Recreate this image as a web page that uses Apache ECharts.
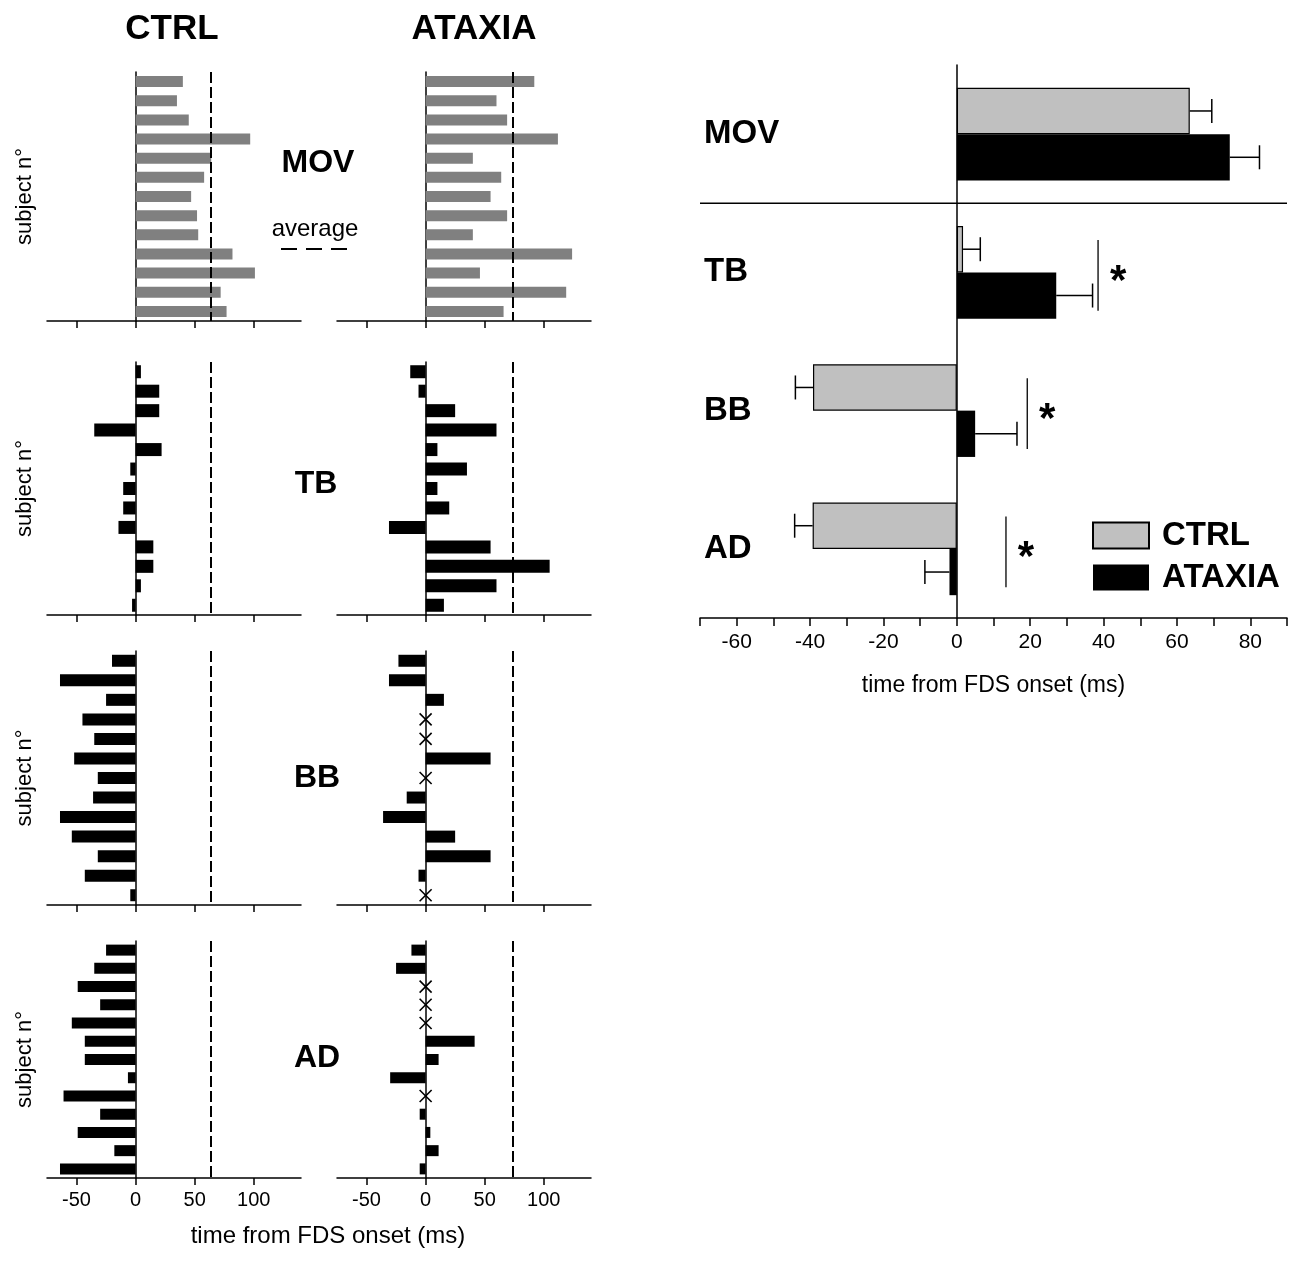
<!DOCTYPE html>
<html>
<head>
<meta charset="utf-8">
<title>FDS onset timing</title>
<script src="https://cdn.jsdelivr.net/npm/echarts@6/dist/echarts.min.js"></script>
<style>
  html, body { margin: 0; padding: 0; background: #fff; }
  #main { width: 1300px; height: 1263px; }
</style>
</head>
<body>
<div id="main"></div>
<script>
var myChart = echarts.init(document.getElementById('main'));

// single subjects, onset time from FDS (ms); null = no activation (x)
var subjects = ['1', '2', '3', '4', '5', '6', '7', '8', '9', '10', '11', '12', '13'];
var ctrlMov = [40, 35, 45, 97, 64, 58, 47, 52, 53, 82, 101, 72, 77];
var ataxiaMov = [92, 60, 69, 112, 40, 64, 55, 69, 40, 124, 46, 119, 66];
var ctrlTb = [4.5, 20, 20, -35, 22, -4.5, -10.5, -10.5, -14.5, 15, 15, 4.5, -3];
var ataxiaTb = [-13, -6, 25, 60, 10, 35, 10, 20, -31, 55, 105, 60, 15.5];
var ctrlBb = [-20, -64, -25, -45, -35, -52, -32, -36, -64, -54, -32, -43, -4.5];
var ataxiaBb = [-23, -31, 15.5, null, null, 55, null, -16, -36, 25, 55, -6, null];
var ctrlAd = [-25, -35, -49, -30, -54, -43, -43, -6.5, -61, -30, -49, -18, -64];
var ataxiaAd = [-12, -25, null, null, null, 41.5, 11, -30, null, -5, 4, 11, -5];
var ctrlAverage = 63.5;
var ataxiaAverage = 73.7;
var panelTicks = [-50, 0, 50, 100];

// group means
var muscles = ['MOV', 'TB', 'BB', 'AD'];
var meanCtrl = [63.5, 1.7, -39.2, -39.3];
var semCtrl = [6.0, 4.7, 4.8, 4.9];
var meanAtaxia = [74.4, 27.1, 5.0, -2.0];
var semAtaxia = [8.1, 9.9, 11.4, 6.7];
var sigMuscles = ['TB', 'BB', 'AD'];
var sigAt = [38.5, 19.2, 13.4];
var separatorAfter = 'MOV';

var panelValues = [
    [ctrlMov, ataxiaMov],
    [ctrlTb, ataxiaTb],
    [ctrlBb, ataxiaBb],
    [ctrlAd, ataxiaAd]
];
var averages = [ctrlAverage, ataxiaAverage];

// layout
var font = 'Liberation Sans, Arial, sans-serif';
var colLeft = [47, 337];
var rowTop = [72, 362, 651, 941];
var rowHeight = [249, 253, 254, 237];
var rowBarWidth = [11, 13, 12, 11];
var rowColor = ['#808080', '#000', '#000', '#000'];

var grid = [], xAxis = [], yAxis = [], series = [];

function crossItem(params, api) {
    var p = api.coord([api.value(0), api.value(1)]);
    var s = 6;
    var style = { stroke: '#000', lineWidth: 1.6 };
    return {
        type: 'group',
        children: [
            { type: 'line', shape: { x1: p[0] - s, y1: p[1] - s, x2: p[0] + s, y2: p[1] + s }, style: style },
            { type: 'line', shape: { x1: p[0] - s, y1: p[1] + s, x2: p[0] + s, y2: p[1] - s }, style: style }
        ]
    };
}

rowTop.forEach(function (top, r) {
    [0, 1].forEach(function (c) {
        var i = grid.length;
        var values = panelValues[r][c];
        grid.push({ left: colLeft[c], top: top, width: 254, height: rowHeight[r], containLabel: false, outerBoundsMode: 'none' });
        xAxis.push({
            gridIndex: i,
            type: 'value',
            min: -75,
            max: 140,
            axisLine: { show: true, onZero: false, lineStyle: { color: '#000', width: 1.5 } },
            axisTick: { show: true, customValues: panelTicks, length: 7, lineStyle: { color: '#000', width: 1.5 } },
            axisLabel: { show: r === 3, customValues: panelTicks, color: '#000', fontSize: 20, fontFamily: font, margin: 12 },
            splitLine: { show: false }
        });
        yAxis.push({
            gridIndex: i,
            type: 'category',
            inverse: true,
            data: subjects,
            axisLine: { show: true, onZero: true, lineStyle: { color: '#000', width: 1.5 } },
            axisTick: { show: false },
            axisLabel: { show: false },
            name: c === 0 ? 'subject n°' : '',
            nameLocation: 'middle',
            nameGap: 11,
            nameTextStyle: { color: '#000', fontSize: 22, fontFamily: font }
        });
        series.push({
            type: 'bar',
            xAxisIndex: i,
            yAxisIndex: i,
            data: values,
            barWidth: rowBarWidth[r],
            itemStyle: { color: rowColor[r] },
            markLine: {
                silent: true,
                symbol: 'none',
                label: { show: false },
                lineStyle: { color: '#000', type: [11, 4], width: 2 },
                data: [{ xAxis: averages[c] }]
            }
        });
        var missing = [];
        values.forEach(function (v, k) {
            if (v === null) missing.push([0, k]);
        });
        if (missing.length) {
            series.push({
                type: 'custom',
                xAxisIndex: i,
                yAxisIndex: i,
                data: missing,
                renderItem: crossItem,
                z: 5
            });
        }
    });
});

// summary panel
var g = grid.length;
grid.push({ left: 700, top: 65, width: 587, height: 553, containLabel: false, outerBoundsMode: 'none' });
xAxis.push({
    gridIndex: g,
    type: 'value',
    min: -70,
    max: 90,
    interval: 10,
    axisLine: { show: true, onZero: false, lineStyle: { color: '#000', width: 1.5 } },
    axisTick: { show: true, length: 8, lineStyle: { color: '#000', width: 1.5 } },
    axisLabel: {
        color: '#000', fontSize: 21, fontFamily: font, margin: 14,
        formatter: function (v) { return v % 20 === 0 ? String(v) : ''; }
    },
    splitLine: { show: false },
    name: 'time from FDS onset (ms)',
    nameLocation: 'middle',
    nameGap: 56,
    nameTextStyle: { color: '#000', fontSize: 23, fontFamily: font }
});
yAxis.push({
    gridIndex: g,
    type: 'category',
    inverse: true,
    data: muscles,
    axisLine: { show: true, onZero: true, lineStyle: { color: '#000', width: 1.5 } },
    axisTick: { show: false },
    axisLabel: { show: false },
    splitLine: { show: false }
});
yAxis.push({
    gridIndex: g,
    type: 'category',
    inverse: true,
    position: 'left',
    data: muscles,
    axisLine: { show: false, onZero: false },
    axisTick: { show: false },
    axisLabel: { inside: true, margin: 4, color: '#000', fontSize: 33, fontWeight: 'bold', fontFamily: font, padding: [5, 0, 0, 0] }
});

function errorItem(side) {
    return function (params, api) {
        var cat = api.value(0);
        var mean = api.value(1);
        var err = api.value(2);
        var band = api.size([0, 1])[1];
        var y = api.coord([0, cat])[1] + side * band * 0.1675;
        var end = mean >= 0 ? mean + err : mean - err;
        var x0 = api.coord([mean, cat])[0];
        var x1 = api.coord([end, cat])[0];
        var style = { stroke: '#000', lineWidth: 1.5 };
        return {
            type: 'group',
            children: [
                { type: 'line', shape: { x1: x0, y1: y, x2: x1, y2: y }, style: style },
                { type: 'line', shape: { x1: x1, y1: y - 12, x2: x1, y2: y + 12 }, style: style }
            ]
        };
    };
}

series.push({
    name: 'CTRL',
    type: 'bar',
    xAxisIndex: g,
    yAxisIndex: g,
    data: meanCtrl,
    barGap: '0%',
    barCategoryGap: '33%',
    itemStyle: { color: '#c0c0c0', borderColor: '#000', borderWidth: 1.2 }
});
series.push({
    name: 'ATAXIA',
    type: 'bar',
    xAxisIndex: g,
    yAxisIndex: g,
    data: meanAtaxia,
    barGap: '0%',
    barCategoryGap: '33%',
    itemStyle: { color: '#000' }
});
series.push({
    type: 'custom',
    xAxisIndex: g,
    yAxisIndex: g,
    encode: { x: 1, y: 0 },
    data: meanCtrl.map(function (m, k) { return [k, m, semCtrl[k]]; }),
    renderItem: errorItem(-1),
    z: 5
});
series.push({
    type: 'custom',
    xAxisIndex: g,
    yAxisIndex: g,
    encode: { x: 1, y: 0 },
    data: meanAtaxia.map(function (m, k) { return [k, m, semAtaxia[k]]; }),
    renderItem: errorItem(1),
    z: 5
});
// significance bars with asterisk
series.push({
    type: 'custom',
    xAxisIndex: g,
    yAxisIndex: g,
    encode: { x: 1, y: 0 },
    data: sigMuscles.map(function (m, k) { return [muscles.indexOf(m), sigAt[k]]; }),
    renderItem: function (params, api) {
        var p = api.coord([api.value(1), api.value(0)]);
        var half = api.size([0, 1])[1] * 0.255;
        return {
            type: 'group',
            children: [
                { type: 'line', shape: { x1: p[0], y1: p[1] - half + 3, x2: p[0], y2: p[1] + half + 3 }, style: { stroke: '#000', lineWidth: 1.3 } },
                {
                    type: 'text',
                    style: {
                        text: '*', x: p[0] + 20, y: p[1] + 10,
                        fontSize: 42, fontWeight: 'bold', fontFamily: font,
                        fill: '#000', align: 'center', verticalAlign: 'middle'
                    }
                }
            ]
        };
    },
    z: 5
});
// horizontal separator below the MOV row
series.push({
    type: 'custom',
    xAxisIndex: g,
    yAxisIndex: g,
    encode: { x: 1, y: 0 },
    data: [[muscles.indexOf(separatorAfter), 0]],
    renderItem: function (params, api) {
        var cs = params.coordSys;
        var y = api.coord([0, api.value(0)])[1] + api.size([0, 1])[1] / 2;
        return {
            type: 'line',
            shape: { x1: cs.x, y1: y, x2: cs.x + cs.width, y2: y },
            style: { stroke: '#000', lineWidth: 1.5 }
        };
    },
    z: 5
});

function label(text, x, y, size, bold) {
    return {
        text: text,
        left: x,
        top: y,
        padding: 0,
        textAlign: 'center',
        textStyle: { color: '#000', fontSize: size, fontWeight: bold ? 'bold' : 'normal', fontFamily: font }
    };
}

var option = {
    backgroundColor: '#fff',
    animation: false,
    title: [
        label('CTRL', 172, 12, 35, true),
        label('ATAXIA', 474, 12, 35, true),
        label('MOV', 318, 147, 32, true),
        label('TB', 316, 468, 32, true),
        label('BB', 317, 762, 32, true),
        label('AD', 317, 1042, 32, true),
        label('average', 315, 217, 24, false),
        label('time from FDS onset (ms)', 328, 1224, 24, false)
    ],
    legend: {
        data: ['CTRL', 'ATAXIA'],
        orient: 'vertical',
        left: 1092,
        top: 519,
        padding: 0,
        itemWidth: 56,
        itemHeight: 26,
        itemGap: 9,
        icon: 'rect',
        selectedMode: false,
        textStyle: { color: '#000', fontSize: 33, fontWeight: 'bold', fontFamily: font, padding: [0, 0, 0, 8] }
    },
    graphic: [{
        type: 'line',
        shape: { x1: 281, y1: 249, x2: 347, y2: 249 },
        style: { stroke: '#000', lineWidth: 2, lineDash: [16, 9] }
    }],
    grid: grid,
    xAxis: xAxis,
    yAxis: yAxis,
    series: series
};

myChart.setOption(option);
</script>
</body>
</html>
